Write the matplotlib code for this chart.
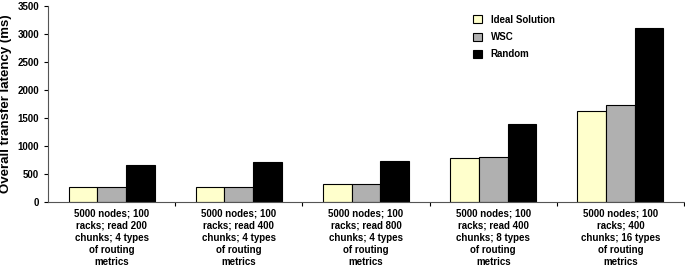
import numpy as np
import matplotlib
matplotlib.use("Agg")
import matplotlib.pyplot as plt

plt.rcParams['font.family'] = ['Liberation Sans', 'DejaVu Sans']
plt.rcParams['font.weight'] = 'bold'

groups = ["5000 nodes; 100\nracks; read 200\nchunks; 4 types\nof routing\nmetrics",
          "5000 nodes; 100\nracks; read 400\nchunks; 4 types\nof routing\nmetrics",
          "5000 nodes; 100\nracks; read 800\nchunks; 4 types\nof routing\nmetrics",
          "5000 nodes; 100\nracks; read 400\nchunks; 8 types\nof routing\nmetrics",
          "5000 nodes; 100\nracks; 400\nchunks; 16 types\nof routing\nmetrics"]
ideal = [268, 262, 316, 780, 1625]
wsc = [268, 262, 316, 810, 1732]
rnd = [666, 720, 738, 1393, 3110]

fig = plt.figure(figsize=(6.85, 2.71), dpi=100)
ax = fig.add_axes([48/685, 1 - 202/271, (684 - 48)/685, (202 - 6)/271])

x = np.arange(len(groups))
w = 0.225
ax.bar(x - w, ideal, w, color="#FFFFCC", edgecolor="black", linewidth=0.8, label="Ideal Solution")
ax.bar(x, wsc, w, color="#B0B0B0", edgecolor="black", linewidth=0.8, label="WSC")
ax.bar(x + w, rnd, w, color="black", edgecolor="black", linewidth=0.8, label="Random")

ax.set_xlim(-0.5, len(groups) - 0.5)
ax.set_ylim(0, 3500)
ax.set_yticks(range(0, 3501, 500))
ax.tick_params(axis='y', labelsize=7, length=3, width=0.8)
ax.set_xticks(x)
ax.set_xticklabels(groups, fontsize=7, linespacing=1.25)
ax.tick_params(axis='x', length=0, pad=5)
ax.set_xticks(np.arange(0.5, len(groups), 1), minor=True)
ax.tick_params(axis='x', which='minor', length=3, width=0.8)
for s in ['top', 'right']:
    ax.spines[s].set_visible(False)
ax.spines['left'].set_color('#555555')
ax.spines['bottom'].set_color('#555555')

ax.set_ylabel("Overall transfer latency (ms)", fontsize=9.5, fontweight='bold')
ax.legend(loc='upper left', bbox_to_anchor=(0.655, 1.0), frameon=False, fontsize=7,
          handlelength=0.9, handleheight=0.9, labelspacing=0.75, handletextpad=0.9)

fig.savefig("out.png", dpi=100)
